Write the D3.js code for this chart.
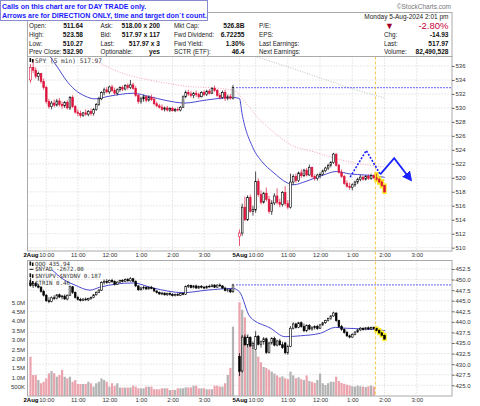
<!doctype html>
<html>
<head>
<script src="https://cdn.jsdelivr.net/npm/d3@7/dist/d3.min.js"></script>
<style>
body{margin:0;background:#fff;}
text{font-family:"Liberation Sans",Arial,sans-serif;}
.mono{font-family:"DejaVu Sans Mono",monospace;}
</style>
</head>
<body>
<svg width="480" height="406" id="chart"></svg>
<script>
// ---- data (5 min bars, [open, high, low, close]) ----
var spyDay1 = [
[534.0,536.3,533.6,535.8],[535.8,537.0,535.0,535.4],[535.4,535.8,534.2,534.5],[534.5,535.2,533.9,534.9],
[534.9,535.0,533.5,533.8],[533.8,534.2,532.6,532.9],[532.9,533.2,530.6,530.9],[530.9,531.3,529.9,530.2],
[530.2,531.0,529.8,530.7],[530.7,531.2,530.1,530.4],[530.4,531.3,530.2,531.0],[531.0,531.4,530.2,530.5],
[530.5,530.9,529.9,530.3],[530.3,531.0,530.0,530.8],[530.8,531.1,529.8,530.0],[530.0,531.7,529.7,531.5],
[531.5,531.8,530.0,530.2],[530.2,530.4,529.2,529.4],[529.4,529.8,528.8,529.2],[529.2,529.6,528.6,528.9],
[528.9,529.4,528.7,529.3],[529.3,529.8,528.9,529.1],[529.1,529.7,528.8,529.5],[529.5,529.9,528.9,529.2],
[529.2,530.0,528.9,529.8],[529.8,530.7,529.6,530.5],[530.5,531.6,530.3,531.3],[531.3,532.4,531.1,532.2],
[532.2,532.9,531.8,532.6],[532.6,533.0,532.1,532.3],[532.3,533.2,532.0,533.0],[533.0,533.3,532.3,532.5],
[532.5,532.9,531.9,532.1],[532.1,532.8,531.8,532.6],[532.6,533.1,532.3,532.9],[532.9,533.2,532.4,532.7],
[532.7,533.4,532.5,533.2],[533.2,533.5,532.6,532.9],[532.9,534.0,532.7,533.3],[533.3,533.6,532.6,532.8],
[532.8,533.1,531.6,531.8],[531.8,532.0,530.6,530.9],[530.9,531.6,530.6,531.3],[531.3,531.9,530.9,531.6],
[531.6,531.8,530.8,531.1],[531.1,531.8,530.9,531.5],[531.5,531.9,531.0,531.2],[531.2,531.6,530.4,530.6],
[530.6,530.9,530.1,530.3],[530.3,530.6,529.9,530.1],[530.1,530.5,529.6,529.8],[529.8,530.2,529.5,530.0],
[530.0,530.3,529.5,529.7],[529.7,530.1,529.4,529.9],[529.9,530.2,529.5,529.6],[529.6,530.0,529.4,529.8],
[529.8,530.1,529.5,529.7],[529.7,530.3,529.5,530.1],[530.1,531.8,530.0,531.6],[531.6,532.5,531.4,532.2],
[532.2,532.6,531.7,532.0],[532.0,532.4,531.5,531.8],[531.8,532.3,531.4,532.1],[532.1,532.5,531.6,531.9],
[531.9,532.2,531.3,531.6],[531.6,532.4,531.5,532.2],[532.2,532.5,531.7,531.9],[531.9,532.6,531.7,532.4],
[532.4,532.7,531.9,532.1],[532.1,533.0,532.0,532.8],[532.8,533.2,532.3,532.5],[532.5,532.7,531.6,531.8],
[531.8,532.1,531.2,531.5],[531.5,532.5,531.3,532.2],[532.2,532.6,531.0,531.4],[531.4,531.9,531.1,531.6],
[531.6,532.0,531.2,531.4],[531.4,533.3,531.2,532.9]
];
var spyDay2 = [
[511.6,512.6,510.27,512.1],[512.1,516.3,511.7,515.8],[515.8,517.3,513.8,514.0],[514.0,517.5,513.8,517.2],
[517.2,517.6,515.0,515.2],[515.2,516.0,514.6,515.5],[515.4,520.9,515.0,519.5],[519.5,519.9,517.3,517.6],
[517.6,518.2,516.2,516.5],[516.5,518.0,516.3,517.8],[517.8,518.6,516.6,516.9],[516.9,517.4,514.9,515.2],
[515.2,516.8,514.7,516.4],[516.4,517.8,516.1,517.4],[517.4,518.5,516.2,516.5],[516.5,517.0,515.8,516.2],
[516.2,518.1,515.9,517.9],[517.9,518.8,516.0,516.3],[516.3,516.8,515.5,515.8],[515.8,520.6,515.6,519.4],
[519.4,520.5,519.0,520.2],[520.2,520.6,519.3,519.6],[519.6,520.9,519.4,520.7],[520.7,521.2,520.0,520.3],
[520.3,521.3,520.1,521.1],[521.1,521.4,520.2,520.4],[520.4,521.9,520.3,521.5],[521.5,521.6,520.0,520.2],
[520.2,520.5,519.6,519.9],[519.9,520.6,519.6,520.4],[520.4,520.8,519.9,520.5],[520.5,521.2,520.3,521.0],
[521.0,521.6,520.8,521.4],[521.4,522.0,521.1,521.8],[521.8,522.4,521.5,522.2],[522.2,523.58,522.0,523.4],
[523.4,523.5,521.6,521.8],[521.8,522.0,520.6,520.8],[520.8,521.2,520.0,520.2],[520.2,520.4,519.0,519.2],
[519.2,519.6,518.6,518.8],[518.8,519.3,518.3,518.6],[518.6,519.2,518.2,519.0],[519.0,519.6,518.7,519.4],
[519.4,520.0,519.1,519.8],[519.8,520.4,519.5,520.1],[520.1,520.3,519.6,519.8],[519.8,520.4,519.6,520.2],
[520.2,520.5,519.7,519.9],[519.9,520.6,519.7,520.3],[520.3,520.5,519.8,520.0],[520.0,520.6,519.6,519.8],
[519.8,520.0,519.2,519.4],[519.4,519.6,518.7,518.9],[518.9,519.0,517.9,517.97]
];
var qqqDay1 = [
[449.2,450.4,448.3,448.6],[448.6,449.5,448.0,449.1],[449.1,449.4,448.2,448.5],[448.5,449.0,447.9,448.2],
[448.2,448.5,446.9,447.2],[447.2,447.6,446.0,446.3],[446.3,446.6,444.7,445.0],[445.0,445.8,444.4,444.8],
[444.8,446.0,444.6,445.7],[445.7,446.3,445.2,445.5],[445.5,446.6,445.3,446.4],[446.4,446.7,445.6,445.9],
[445.9,446.4,445.3,446.1],[446.1,446.5,445.2,445.4],[445.4,446.5,445.1,446.3],[446.3,448.6,446.1,448.3],
[448.3,448.5,446.6,446.9],[446.9,447.2,445.5,445.8],[445.8,446.2,445.0,445.3],[445.3,445.7,444.8,445.1],
[445.1,445.6,444.9,445.4],[445.4,445.8,445.0,445.2],[445.2,445.7,444.9,445.5],[445.5,446.0,445.2,445.8],
[445.8,446.6,445.6,446.4],[446.4,447.2,446.2,447.0],[447.0,447.8,446.8,447.5],[447.5,449.6,447.3,449.3],
[449.3,450.0,448.8,449.6],[449.6,450.1,449.0,449.3],[449.3,450.0,449.1,449.8],[449.8,450.2,449.2,449.5],
[449.5,449.8,448.6,448.9],[448.9,449.6,448.7,449.4],[449.4,450.0,449.2,449.8],[449.8,450.1,449.3,449.6],
[449.6,450.3,449.4,450.0],[450.0,450.4,449.5,449.7],[449.7,450.6,449.5,450.2],[450.2,450.4,449.4,449.6],
[449.6,449.8,448.2,448.5],[448.5,448.7,447.3,447.6],[447.6,448.3,447.4,448.0],[448.0,448.5,447.6,448.2],
[448.2,448.4,447.5,447.8],[447.8,448.4,447.6,448.1],[448.1,448.5,447.7,447.9],[447.9,448.1,447.1,447.3],
[447.3,447.5,446.7,446.9],[446.9,447.2,446.4,446.6],[446.6,447.1,446.3,446.8],[446.8,447.0,446.2,446.4],
[446.4,446.9,446.1,446.7],[446.7,447.0,446.2,446.5],[446.5,446.8,446.0,446.2],[446.2,446.7,446.0,446.5],
[446.5,446.8,446.1,446.3],[446.3,446.9,446.1,446.7],[446.7,447.0,446.3,446.5],[446.5,448.6,446.4,448.4],
[448.4,448.9,448.0,448.6],[448.6,448.8,447.9,448.1],[448.1,448.7,447.9,448.5],[448.5,448.8,447.8,448.0],
[448.0,448.6,447.8,448.4],[448.4,448.7,447.9,448.2],[448.2,448.5,447.7,448.0],[448.0,448.6,447.9,448.4],
[448.4,448.8,448.1,448.3],[448.3,448.9,448.2,448.7],[448.7,448.9,448.0,448.2],[448.2,448.9,448.1,448.7],
[448.7,449.1,448.3,448.5],[448.5,448.7,447.8,448.0],[448.0,448.3,447.2,447.4],[447.4,447.9,447.0,447.6],
[447.6,447.8,446.8,447.1],[447.1,449.0,446.9,448.75]
];
var qqqDay2 = [
[431.8,432.6,427.2,428.3],[428.4,436.9,428.0,436.4],[436.4,437.0,434.3,434.6],[434.6,436.8,434.0,436.3],
[436.3,436.6,434.0,434.3],[434.3,435.4,433.6,434.9],[433.5,437.8,433.2,436.6],[436.6,436.9,434.4,434.7],
[434.7,435.6,433.9,435.3],[435.3,436.4,434.6,436.0],[436.0,436.3,432.4,432.8],[432.8,435.3,432.5,435.0],
[435.0,436.4,434.6,436.1],[436.1,436.5,434.2,434.5],[434.5,435.8,434.2,435.5],[435.5,436.0,434.3,434.6],
[434.6,435.3,433.6,433.9],[435.0,435.3,432.3,432.7],[432.7,434.6,432.2,434.2],[434.2,439.0,434.0,438.5],
[438.5,439.9,438.2,439.5],[439.5,439.8,438.4,438.7],[438.7,440.0,438.5,439.8],[439.8,440.1,438.6,438.9],
[438.9,439.6,437.6,437.9],[437.9,439.4,437.6,439.1],[439.1,439.5,438.0,438.3],[438.3,439.0,437.9,438.6],
[438.6,439.2,438.2,438.9],[438.9,439.3,438.1,438.4],[438.4,439.5,438.3,439.3],[439.3,440.0,439.0,439.8],
[439.8,440.5,439.5,440.3],[440.3,441.0,440.1,440.8],[440.8,441.6,440.5,441.4],[441.4,442.4,441.2,442.1],
[442.1,442.2,440.0,440.3],[440.3,440.5,438.6,438.9],[438.9,439.3,437.9,438.2],[438.2,438.5,437.2,437.5],
[437.5,437.9,436.4,436.7],[436.7,437.0,436.1,436.4],[436.4,437.3,436.2,437.0],[437.0,437.8,436.8,437.6],
[437.6,438.3,437.4,438.1],[438.1,438.8,437.8,438.5],[438.5,438.7,437.9,438.2],[438.2,438.8,438.0,438.6],
[438.6,438.9,438.1,438.3],[438.3,438.9,438.1,438.7],[438.7,438.9,438.2,438.4],[438.4,438.6,437.8,438.0],
[438.0,438.2,437.2,437.4],[437.4,437.6,436.6,436.8],[436.8,437.0,435.8,435.94]
];
// volume in thousands of shares
var volDay1 = [2100,1120,1120,850,680,760,940,1210,1330,1210,1030,1120,1390,1030,940,1030,760,850,640,640,
  640,640,760,680,500,680,760,940,850,760,500,680,535,680,450,450,450,450,450,550,500,410,410,410,500,500,
  500,360,360,360,410,410,410,320,320,320,410,410,410,460,460,460,550,550,410,410,410,360,360,360,550,550,
  500,500,680,1120,1500,3700];
var volDay2 = [5000,4600,4200,3300,2900,2600,2400,2100,1800,1550,1500,1400,1300,1200,1100,1000,1050,950,900,
  1300,1100,950,1000,900,850,1100,800,760,700,850,1200,680,590,680,760,760,1030,800,700,650,600,560,520,500,
  560,520,500,480,520,560,500];
var spyPrevClose = 543.01, spyDay1Close = 532.90, qqqDay1Close = 448.75;

// moving averages: [bar index, price]
var spyMaBlue = [[7.0,537.6],[10.5,535.7],[13.5,534.0],[16.9,532.6],[20.7,531.7],[24.5,531.3],[30.2,531.7],
  [39.0,532.1],[45.4,531.6],[51.1,531.1],[58.7,530.7],[66.3,531.1],[77.0,531.5],[78.0,531.35],[78.9,529.3],
  [83.0,524.3],[86.4,522.3],[90.5,520.8],[95.7,519.3],[98.0,519.0],[102.8,519.5],[109.2,520.4],[114.0,520.9],
  [119.2,520.55],[124.8,520.4],[131.5,520.1],[132,520.05]];
var spyMaPink = [[21.9,537.3],[26.4,536.4],[34.0,535.1],[46.6,533.9],[59.5,533.1],[72.1,532.8],[77.4,532.4],
  [78.2,531.7],[81.9,530.0],[84.9,528.6],[91.2,526.4],[97.2,524.7],[105.0,523.8],[113.6,522.8],[121.1,522.1],
  [128.9,521.7],[132.3,521.55]];
var spyMaGray = [[81.9,537.6],[95.7,535.9],[108.0,534.3],[119.2,532.85],[132.3,531.4]];
var qqqMaBlue = [[8.2,452.3],[12.4,450.1],[16.9,448.7],[22.6,447.5],[26.4,448.2],[39.0,449.2],[46.6,448.0],
  [58.0,446.9],[67.1,447.5],[77.0,447.9],[78.0,447.1],[81.9,441.2],[89.4,438.55],[95.0,436.5],[100.6,436.7],
  [108.1,437.3],[113.7,438.7],[117.4,438.5],[128.6,438.2],[132.3,437.9]];

// direction arrows drawn on the chart: [bar index, price]
var arrowDotted = [[119.2,520.1],[125.2,523.9],[130.4,520.5]];
var arrowSolid = [[130.4,520.5],[135.6,522.8],[141.6,519.8]];
var markerBar = 128.6, highlightFrom = 129;

var spyTicks = d3.range(510, 537, 2);
var qqqTicks = [425,427.5,430,432.5,435,437.5,440,442.5,445,447.5,450,452.5];
var volTicks = [500,1000,1500,2000,2500,3000,3500,4000,4500,5000];
var volTickLabels = ["500K","1.0M","1.5M","2.0M","2.5M","3.0M","3.5M","4.0M","4.5M","5.0M"];
var timeTicks = [0,30,90,150,210,270,330,390,420,480,540,600,660,720];
var timeLabels = ["2Aug","10:00","11:00","12:00","1:00","2:00","3:00","5Aug","10:00","11:00","12:00","1:00","2:00","3:00"];

var infoCols = [
  {lx:29, vx:83, labels:["Open:","High:","Low:","Prev Close:"], values:["511.64","523.58","510.27","532.90"]},
  {lx:100.5, vx:160, labels:["Ask:","Bid:","Last:","Optionable:"], values:["518.00 x 200","517.97 x 117","517.97 x 3","yes"]},
  {lx:174, vx:244.5, labels:["Mkt Cap:","Fwd Dividend:","Fwd Yield:","SCTR (ETF):"], values:["526.8B","6.72255","1.30%","46.4"]},
  {lx:259, vx:0, labels:["P/E:","EPS:","Last Earnings:","Next Earnings:"], values:["","","",""]},
  {lx:384, vx:448.5, labels:["","Chg:","Last:","Volume:"], values:["","-14.93","517.97","82,490,528"]}
];
var rowY = [28, 37, 45.5, 54.3];

// ---- scales ----
var svg = d3.select("#chart");
var x = d3.scaleLinear().domain([0,385,390,775]).range([30.5,233,239.5,446.3]);
function barMin(i){ return i < 78 ? i*5 : 390 + (i-78)*5; }
function bx(i){ return x(barMin(i)); }

var P1 = {l:27.5, r:452, t:56.5, b:251};
var P2 = {l:27.5, r:452, t:260.5, b:396};
var ySpy = d3.scaleLinear().domain([510,536]).range([247.7,66]);
var yQqq = d3.scaleLinear().domain([425,452.5]).range([385.3,269]);
var yVol = d3.scaleLinear().domain([0,5000]).range([396,302.3]);

var spy = spyDay1.concat(spyDay2);
var qqq = qqqDay1.concat(qqqDay2);
var vol = volDay1.concat(volDay2);

var defs = svg.append("defs");
[["c1",P1],["c2",P2]].forEach(function(c){
  defs.append("clipPath").attr("id",c[0]).append("rect")
    .attr("x",c[1].l).attr("y",c[1].t).attr("width",c[1].r-c[1].l).attr("height",c[1].b-c[1].t);
});
defs.append("marker").attr("id","ah").attr("viewBox","0 0 10 10").attr("refX",7).attr("refY",5)
  .attr("markerWidth",10).attr("markerHeight",10).attr("markerUnits","userSpaceOnUse").attr("orient","auto")
  .append("path").attr("d","M0,0 L10,5 L0,10 z").attr("fill","#1a22ff");

// ---- header ----
svg.append("text").attr("x",451).attr("y",9).attr("text-anchor","end")
  .style("font-size","6.5px").style("fill","#777").text("\u00a9StockCharts.com");
svg.append("rect").attr("x",27.5).attr("y",12.5).attr("width",424.5).attr("height",44)
  .attr("fill","none").attr("stroke","#aaa");
svg.append("text").attr("x",448.5).attr("y",18.5).attr("text-anchor","end")
  .style("font-size","6.5px").style("fill","#222").text("Monday  5-Aug-2024  2:01 pm");

infoCols.forEach(function(c){
  c.labels.forEach(function(t,i){
    svg.append("text").attr("x",c.lx).attr("y",rowY[i]).style("font-size","6.3px").style("fill","#222").text(t);
    if (c.values[i]) svg.append("text").attr("x",c.vx).attr("y",rowY[i]).attr("text-anchor","end")
      .style("font-size","6.6px").style("font-weight","bold").style("fill","#111").text(c.values[i]);
  });
});
svg.append("text").attr("x",385).attr("y",29).style("font-size","9px").style("fill","#a0002a").text("\u25BC");
svg.append("text").attr("x",448.5).attr("y",29).attr("text-anchor","end")
  .style("font-size","9.5px").style("fill","#c8003c").text("-2.80%");

svg.append("rect").attr("x",0.5).attr("y",0.5).attr("width",207).attr("height",20)
  .attr("fill","#fff").attr("stroke","#8a8ad0");
svg.append("text").attr("x",2).attr("y",8.5).style("font-size","7px").style("font-weight","bold")
  .style("fill","#1a1aff").text("Calls on this chart are for DAY TRADE only.");
svg.append("text").attr("x",2).attr("y",17.5).style("font-size","7px").style("font-weight","bold")
  .style("fill","#1a1aff").text("Arrows are for DIRECTION ONLY, time and target don`t count.");

// ---- grids & frames ----
function grid(P, yScale, ticks){
  var g = svg.append("g").attr("stroke","#c8c8c8").attr("stroke-dasharray","1,2").attr("stroke-width",0.8);
  g.selectAll("line.h").data(ticks).enter().append("line")
    .attr("x1",P.l).attr("x2",P.r).attr("y1",d=>yScale(d)).attr("y2",d=>yScale(d));
  g.selectAll("line.v").data(timeTicks.slice(1)).enter().append("line")
    .attr("x1",d=>x(d)).attr("x2",d=>x(d)).attr("y1",P.t).attr("y2",P.b);
}
grid(P1, ySpy, spyTicks);
grid(P2, yQqq, qqqTicks);

// ---- volume ----
var gv = svg.append("g").attr("clip-path","url(#c2)");
gv.selectAll("rect").data(vol).enter().append("rect")
  .attr("x",(d,i)=>bx(i)-1.1).attr("width",2.2)
  .attr("y",d=>yVol(d)).attr("height",d=>yVol(0)-yVol(d))
  .attr("fill",function(d,i){ var pc = i ? spy[i-1][3] : spyPrevClose; return spy[i][3] >= pc ? "#b3b3b3" : "#eba3ad"; });

// ---- moving averages & prev close ----
var line = function(ys){ return d3.line().x(d=>bx(d[0])).y(d=>ys(d[1])).curve(d3.curveMonotoneX); };
var g1 = svg.append("g").attr("clip-path","url(#c1)");
var g2 = svg.append("g").attr("clip-path","url(#c2)");
g1.append("path").attr("d",line(ySpy)(spyMaGray)).attr("fill","none").attr("stroke","#b8c4b8").attr("stroke-dasharray","1,1.5");
g1.append("path").attr("d",line(ySpy)(spyMaPink)).attr("fill","none").attr("stroke","#f2a6b4").attr("stroke-dasharray","1,1.5");
g1.append("path").attr("d",line(ySpy)(spyMaBlue)).attr("fill","none").attr("stroke","#4a4ad0").attr("stroke-width",1);
g2.append("path").attr("d",line(yQqq)(qqqMaBlue)).attr("fill","none").attr("stroke","#4a4ad0").attr("stroke-width",1);

g1.append("line").attr("x1",x(387.5)).attr("x2",P1.r).attr("y1",ySpy(spyDay1Close)).attr("y2",ySpy(spyDay1Close))
  .attr("stroke","#5a5aff").attr("stroke-width",1.4).attr("stroke-dasharray","1.5,1.5");
g2.append("line").attr("x1",x(387.5)).attr("x2",P2.r).attr("y1",yQqq(qqqDay1Close)).attr("y2",yQqq(qqqDay1Close))
  .attr("stroke","#5a5aff").attr("stroke-width",1.4).attr("stroke-dasharray","1.5,1.5");

// ---- candles ----
function candles(g, data, ys, prev0, redOn){
  var hl = data.map((d,i)=>i).filter(i=>i>=highlightFrom);
  g.selectAll("rect.hl").data(hl).enter().append("rect")
    .attr("x",i=>bx(i)-2.2).attr("width",4.4)
    .attr("y",i=>ys(data[i][1])-1.5).attr("height",i=>ys(data[i][2])-ys(data[i][1])+3)
    .attr("fill","#ffee22");
  function col(d,i){
    if (!redOn) return "#000";
    var pc = i ? data[i-1][3] : prev0;
    return d[3] >= pc ? "#000" : "#dc143c";
  }
  var c = g.selectAll("g.c").data(data).enter().append("g");
  c.append("line").attr("x1",(d,i)=>bx(i)).attr("x2",(d,i)=>bx(i))
    .attr("y1",d=>ys(d[1])).attr("y2",d=>ys(d[2])).attr("stroke",col).attr("stroke-width",0.7);
  c.append("rect").attr("x",(d,i)=>bx(i)-0.85).attr("width",1.7)
    .attr("y",d=>ys(Math.max(d[0],d[3])))
    .attr("height",d=>Math.max(0.6,Math.abs(ys(d[0])-ys(d[3]))))
    .attr("fill",(d,i)=>d[3] < d[0] ? col(d,i) : "#fff")
    .attr("stroke",col).attr("stroke-width",0.6);
}
candles(g1, spy, ySpy, spyPrevClose, true);
candles(g2, qqq, yQqq, qqqDay1Close, false);

// ---- marker line & arrows ----
svg.append("line").attr("x1",bx(markerBar)).attr("x2",bx(markerBar)).attr("y1",P1.t).attr("y2",P2.b)
  .attr("stroke","#f2c233").attr("stroke-dasharray","3,2").attr("stroke-width",0.9);
var al = d3.line().x(d=>bx(d[0])).y(d=>ySpy(d[1]));
svg.append("path").attr("d",al(arrowDotted)).attr("fill","none").attr("stroke","#1a22ff")
  .attr("stroke-width",1.6).attr("stroke-dasharray","2,1.5");
svg.append("path").attr("d",al(arrowSolid)).attr("fill","none").attr("stroke","#1a22ff")
  .attr("stroke-width",1.8).attr("marker-end","url(#ah)");

// frames
[P1,P2].forEach(function(P){
  svg.append("rect").attr("x",P.l).attr("y",P.t).attr("width",P.r-P.l).attr("height",P.b-P.t)
    .attr("fill","none").attr("stroke","#aaa");
});

// ---- axes ----
function styleAxis(g){
  g.select(".domain").remove();
  g.selectAll("line").attr("stroke","#666");
  g.selectAll("text").style("font-size","6px").style("fill","#333").style("font-family","Liberation Sans, Arial, sans-serif");
}
svg.append("g").attr("transform","translate("+P1.r+",0)")
  .call(d3.axisRight(ySpy).tickValues(spyTicks).tickSize(2.5).tickPadding(1)).call(styleAxis);
svg.append("g").attr("transform","translate("+P2.r+",0)")
  .call(d3.axisRight(yQqq).tickValues(qqqTicks).tickSize(2.5).tickPadding(1).tickFormat(d3.format(".1f"))).call(styleAxis);
svg.append("g").attr("transform","translate("+(P2.l-1)+",0)")
  .call(d3.axisLeft(yVol).tickValues(volTicks).tickSize(0).tickPadding(1.5).tickFormat((d,i)=>volTickLabels[i])).call(styleAxis);

[P1.b, P2.b].forEach(function(yb){
  var ax = svg.append("g").attr("transform","translate(0,"+yb+")")
    .call(d3.axisBottom(x).tickValues(timeTicks).tickSize(0).tickPadding(2).tickFormat((d,i)=>timeLabels[i]))
    .call(styleAxis);
  ax.selectAll("text").filter(d=>d===0||d===390).style("font-weight","bold").style("fill","#000");
});

// ---- legends ----
function icon(xx, yy){
  svg.append("rect").attr("x",xx).attr("y",yy).attr("width",1.6).attr("height",4).attr("fill","#111");
  svg.append("rect").attr("x",xx+2.4).attr("y",yy+1).attr("width",1.6).attr("height",3.5).attr("fill","#111");
}
icon(29.5, 58);
svg.append("text").attr("class","mono").attr("x",35).attr("y",62.5).style("font-size","6.2px").style("fill","#333")
  .text("SPY (5 min) 517.97");
var leg2 = ["QQQ 435.94","$NYAD -2672.00","$NYUPV:$NYDNV 0.187","$TRIN 0.46"];
var legY = [266,271.3,277.8,284.5];
leg2.forEach(function(t,i){
  if (i===1) svg.append("line").attr("x1",29.5).attr("x2",33.5).attr("y1",legY[i]-2).attr("y2",legY[i]-2).attr("stroke","#111");
  else icon(29.5, legY[i]-4.5);
  svg.append("text").attr("class","mono").attr("x",35).attr("y",legY[i]).style("font-size","5.8px").style("fill","#333").text(t);
});
</script>
</body>
</html>
